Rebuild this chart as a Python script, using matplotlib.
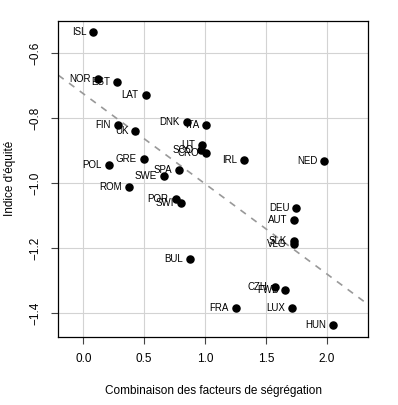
import numpy as np
import matplotlib
matplotlib.use("Agg")
import matplotlib.pyplot as plt

countries = ["ISL", "NOR", "EST", "LAT", "FIN", "UK", "DNK", "ITA", "LIT", "SCO", "CRO",
             "GRE", "POL", "SPA", "SWE", "ROM", "IRL", "NED", "POR", "SWI", "DEU", "AUT",
             "SLK", "VLG", "BUL", "CZH", "FWB", "FRA", "LUX", "HUN"]
segregation = [0.082, 0.118, 0.277, 0.513, 0.283, 0.427, 0.852, 1.008, 0.978, 0.965, 1.011,
               0.496, 0.209, 0.786, 0.663, 0.373, 1.320, 1.980, 0.759, 0.800, 1.750, 1.734,
               1.734, 1.729, 0.877, 1.573, 1.660, 1.252, 1.715, 2.049]
equity = [-0.537, -0.680, -0.690, -0.730, -0.821, -0.841, -0.8135, -0.821, -0.883, -0.898, -0.907,
          -0.925, -0.944, -0.961, -0.977, -1.0135, -0.929, -0.933, -1.050, -1.061, -1.078, -1.112,
          -1.178, -1.188, -1.232, -1.319, -1.327, -1.384, -1.383, -1.436]
xticks = [0.0, 0.5, 1.0, 1.5, 2.0]
yticks = [-0.6, -0.8, -1.0, -1.2, -1.4]

plt.rcParams['font.family'] = ['Liberation Sans', 'DejaVu Sans']

fig = plt.figure(figsize=(3.98, 4.05), dpi=100)
ax = fig.add_axes([58.3 / 398, 1 - 336.7 / 405, (368.3 - 58.3) / 398, (336.7 - 20.7) / 405])

ax.set_xlim(-0.205, 2.342)
ax.set_ylim(-1.472, -0.501)
ax.set_xticks(xticks)
ax.set_xticklabels([f"{t:.1f}" for t in xticks])
ax.set_yticks(yticks)
ax.set_yticklabels([f"{t:.1f}".replace("-", "\u2212") for t in yticks])
ax.grid(True, color="#D3D3D3", linewidth=0.8)
ax.set_axisbelow(True)

x = np.array(segregation)
y = np.array(equity)
slope, intercept = np.polyfit(x, y, 1)
xl = np.array(ax.get_xlim())
ax.plot(xl, intercept + slope * xl, linestyle=(0, (4, 4)), color="#999999", linewidth=1.2, zorder=2)

ax.scatter(x, y, s=26, color="black", zorder=3)
for c, xi, yi in zip(countries, x, y):
    ax.annotate(c, (xi, yi), xytext=(-5, 0), textcoords="offset points",
                ha="right", va="center", fontsize=7, zorder=4)

for s in ax.spines.values():
    s.set_color("black")
    s.set_linewidth(0.9)
ax.tick_params(axis="both", direction="out", length=5, width=0.8, color="#444444",
               labelsize=8.5, pad=7)
for lab in ax.get_yticklabels():
    lab.set_rotation(90)
    lab.set_va("center")

ax.set_xlabel("Combinaison des facteurs de ségrégation", fontsize=8.5, labelpad=14)
ax.set_ylabel("Indice d'équité", fontsize=8.5, labelpad=10)

fig.savefig("out.png", dpi=100)
